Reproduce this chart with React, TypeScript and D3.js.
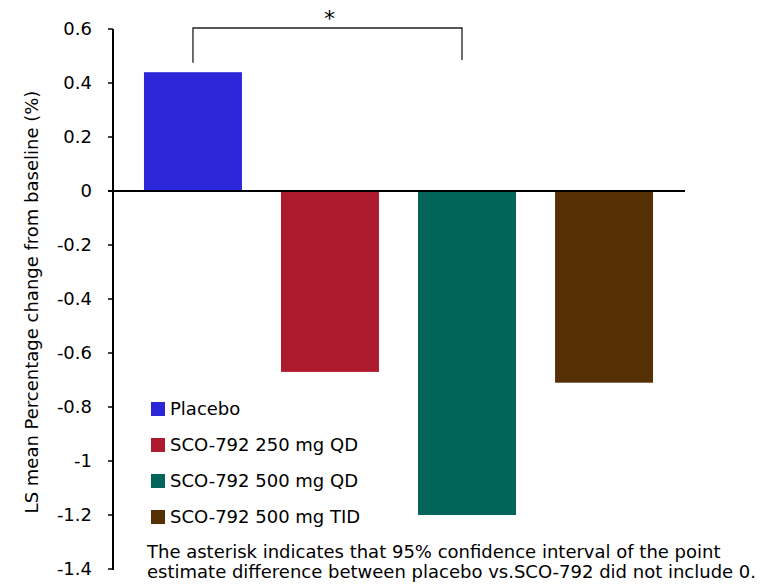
import React from 'react';
import * as d3 from 'd3';

const groups = ['Placebo', 'SCO-792 250 mg QD', 'SCO-792 500 mg QD', 'SCO-792 500 mg TID'];
const values = [0.44, -0.67, -1.2, -0.71];
const colors = ['#2B26D8', '#AE1A2E', '#02645A', '#553005'];
const yTicks = [0.6, 0.4, 0.2, 0, -0.2, -0.4, -0.6, -0.8, -1, -1.2, -1.4];
const note = [
  'The asterisk indicates that 95% confidence interval of the point',
  'estimate difference between placebo vs.SCO-792 did not include 0.',
];

const font = '"DejaVu Sans", Verdana, sans-serif';

export default function App() {
  const width = 771;
  const height = 588;

  const x = d3.scaleBand<string>()
    .domain(groups)
    .range([113, 684])
    .paddingInner(0.285)
    .paddingOuter(0.226);

  const y = d3.scaleLinear().domain([-1.4, 0.6]).range([569, 29]);

  // plain hyphen for negatives, like the original
  const fmt = (v: number) => String(+v.toFixed(1));

  // significance bracket between placebo and 500 mg QD
  const bx1 = x(groups[0])! + x.bandwidth() / 2;
  const bx2 = x(groups[2])! + x.bandwidth() / 2 - 5;
  const bTop = y(0.6) - 1;

  return (
    <svg width={width} height={height} style={{ position: 'absolute', left: 0, top: 0, background: '#fff' }}
      fontFamily={font}>
      {groups.map((g, i) => (
        <rect key={g}
          x={x(g)}
          y={Math.min(y(values[i]), y(0))}
          width={x.bandwidth()}
          height={Math.abs(y(values[i]) - y(0))}
          fill={colors[i]} />
      ))}

      {/* y axis */}
      <line x1={113} x2={113} y1={y(0.6)} y2={y(-1.4) + 1} stroke="#000" strokeWidth={2} />
      {yTicks.map(t => (
        <g key={t}>
          <line x1={108} x2={113} y1={y(t)} y2={y(t)} stroke="#000" strokeWidth={1.5} />
          <text x={92} y={y(t)} dy="0.35em" textAnchor="end" fontSize={18} fill="#000">{fmt(t)}</text>
        </g>
      ))}
      {/* zero line */}
      <line x1={108} x2={685} y1={y(0)} y2={y(0)} stroke="#000" strokeWidth={2} />

      <text transform={`translate(38,${(y(0.6) + y(-1.4)) / 2 + 3}) rotate(-90)`}
        textAnchor="middle" fontSize={18} fill="#000">
        LS mean Percentage change from baseline (%)
      </text>

      {/* bracket */}
      <path d={`M${bx1},${y(0.475)}V${bTop}H${bx2}V${y(0.485)}`} fill="none" stroke="#222" strokeWidth={1.3} />
      <text x={(bx1 + bx2) / 2 + 2} y={bTop - 2} textAnchor="middle" fontSize={22} fill="#000">*</text>

      {/* legend */}
      {groups.map((g, i) => (
        <g key={g} transform={`translate(151,${402 + i * 36})`}>
          <rect width={14} height={14} fill={colors[i]} />
          <text x={19} y={7} dy="0.36em" fontSize={18} fill="#000">{g}</text>
        </g>
      ))}

      {note.map((n, i) => (
        <text key={i} x={147} y={558 + i * 20} fontSize={18} fill="#000">{n}</text>
      ))}
    </svg>
  );
}
